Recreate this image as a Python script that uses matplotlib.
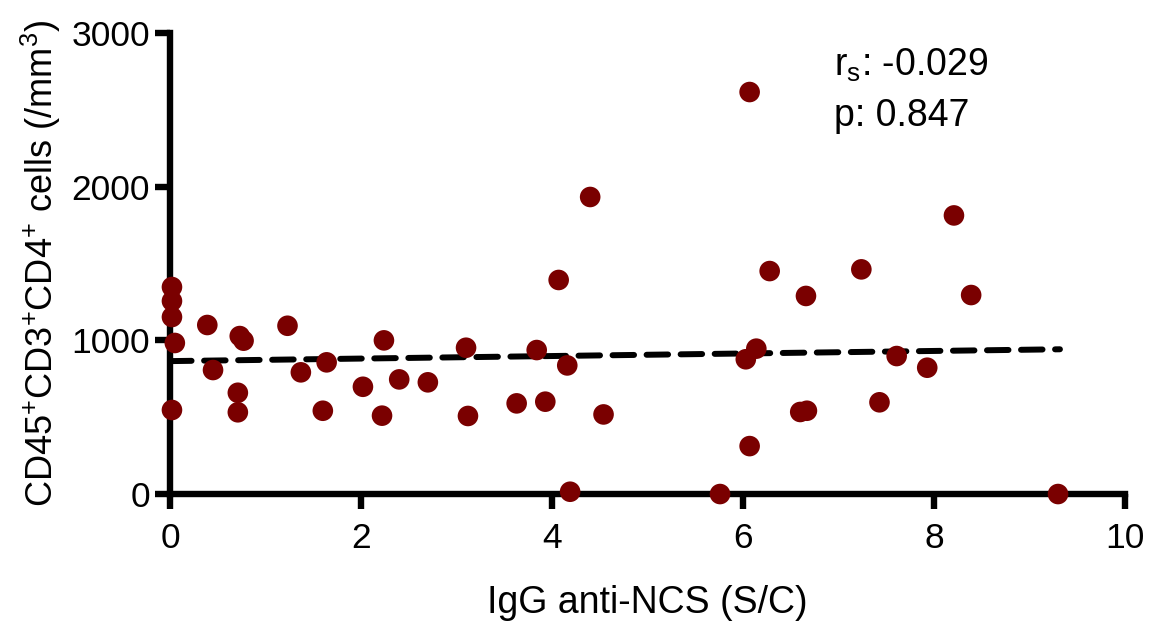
import numpy as np
import matplotlib.pyplot as plt

plt.rcParams['font.family'] = ['Liberation Sans', 'DejaVu Sans']
plt.rcParams['mathtext.fontset'] = 'custom'
plt.rcParams['mathtext.rm'] = 'Liberation Sans'
plt.rcParams['mathtext.it'] = 'Liberation Sans'

# IgG anti-NCS (S/C) vs CD4+ T cell counts
igg = [0.02, 0.02, 0.02, 0.05, 0.02, 0.39, 0.45, 0.73, 0.77, 0.71, 0.71,
       1.23, 1.37, 1.64, 1.60, 2.02, 2.24, 2.22, 2.40, 2.70, 3.10, 3.12,
       4.07, 3.84, 4.16, 3.63, 3.93, 4.54, 4.19, 4.40, 5.76,
       6.07, 6.28, 6.66, 6.14, 6.03, 6.07, 6.60, 6.67,
       7.24, 8.21, 8.39, 7.61, 7.93, 7.43, 9.30]
cd4 = [1347, 1256, 1152, 983, 547, 1100, 807, 1028, 998, 659, 532,
       1095, 792, 857, 542, 698, 1000, 510, 746, 727, 952, 508,
       1393, 937, 837, 590, 601, 518, 15, 1933, 0,
       2616, 1451, 1289, 946, 877, 312, 534, 542,
       1462, 1813, 1295, 898, 822, 597, 0]

# linear fit line
fit_x = [0.0, 9.32]
fit_y = [865, 942]

rs_text = 'r$_\\mathregular{s}$: -0.029'
p_text = 'p: 0.847'

fig = plt.figure(figsize=(11.49, 6.23), dpi=100)
ax = fig.add_axes([0.148, 0.207, 0.831, 0.740])

ax.scatter(igg, cd4, s=220, color='#7a0000', edgecolors='none',
           zorder=3, clip_on=False)
ax.plot(fit_x, fit_y, color='black', lw=4.3, dashes=(3.6, 2.1),
        dash_capstyle='round', zorder=2)

ax.set_xlim(0, 10)
ax.set_ylim(0, 3000)
ax.set_xticks(np.arange(0, 11, 2))
ax.set_yticks([0, 1000, 2000, 3000])

for side in ['top', 'right']:
    ax.spines[side].set_visible(False)
for side in ['left', 'bottom']:
    ax.spines[side].set_linewidth(4.6)
ax.tick_params(axis='x', pad=9)
ax.tick_params(width=4.6, length=11, labelsize=25.5, direction='out')

ax.set_xlabel('IgG anti-NCS (S/C)', fontsize=27, labelpad=22)
ax.set_ylabel('CD45$^{+}$CD3$^{+}$CD4$^{+}$ cells (/mm$^{3}$)',
              fontsize=26, labelpad=6)

ax.text(6.95, 2790, rs_text, fontsize=27, va='center')
ax.text(6.95, 2460, p_text, fontsize=27, va='center')

fig.savefig('out.png', dpi=100)
